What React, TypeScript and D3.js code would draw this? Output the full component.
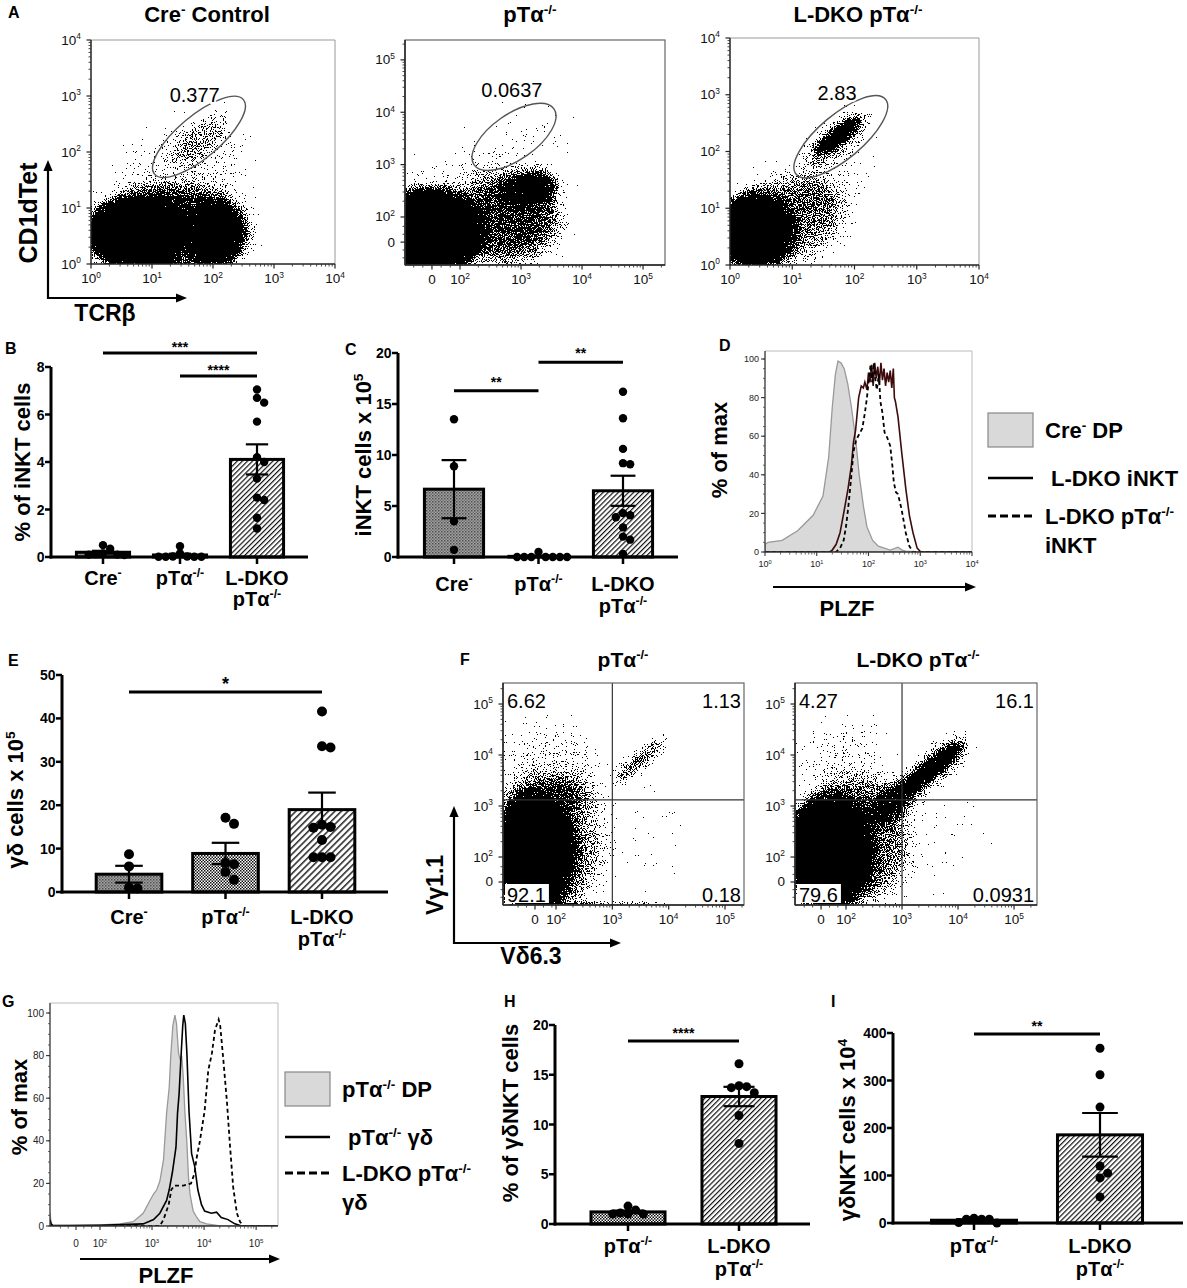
import React, { useEffect } from "react";
import * as d3 from "d3";

const FONT = "'Liberation Sans', Arial, Helvetica, sans-serif";

// ================= DATA =================
// Panel B: % of iNKT cells
const B_CRE = [0.5, 0.35, 0.15, 0.12, 0.1, 0.1, 0.08];
const B_PTA = [0.45, 0.15, 0.02, 0.01, 0.01, 0.01, 0.01, 0.02];
const B_LDKO = [7.05, 6.7, 6.5, 5.7, 4.2, 4.0, 3.3, 2.5, 2.4, 1.65, 1.2];
const B_TICKS = [0, 2, 4, 6, 8];
const B_SIG = [{ a: 0, b: 2, y: 8.59, t: "***" }, { a: 1, b: 2, y: 7.62, t: "****" }];

// Panel C: iNKT cells x 10^5
const C_CRE = [13.5, 8.9, 3.5, 0.7];
const C_PTA = [0, 0, 0, 0, 0, 0, 0, 0.5];
const C_LDKO = [16.2, 13.6, 10.6, 9.2, 9.1, 4.3, 4.1, 3.9, 2.9, 2.0, 1.7, 0.3];
const C_TICKS = [0, 5, 10, 15, 20];
const C_SIG = [{ a: 0, b: 1, y: 16.3, t: "**" }, { a: 1, b: 2, y: 19.1, t: "**" }];

// Panel E: γδ cells x 10^5
const E_CRE = [8.7, 5.9, 1.0, 0.8];
const E_PTA = [17.1, 15.7, 6.7, 6.4, 4.6, 2.8];
const E_LDKO = [41.6, 33.6, 33.3, 15.5, 15.0, 14.8, 12.0, 8, 8, 8];
const E_TICKS = [0, 10, 20, 30, 40, 50];
const E_SIG = [{ a: 0, b: 2, y: 46.1, t: "*" }];

// Panel H: % of γδNKT cells
const H_PTA = [1.8, 1.4, 1.1, 1.0, 1.0, 1.0];
const H_LDKO = [16.1, 13.9, 13.8, 13.7, 13.2, 10.9, 8.1];
const H_TICKS = [0, 5, 10, 15, 20];
const H_SIG = [{ a: 0, b: 1, y: 18.4, t: "****" }];

// Panel I: γδNKT cells x 10^4
const I_PTA = [10, 8, 8, 8, 1, 0];
const I_LDKO = [368, 312, 244, 120, 105, 95, 55];
const I_TICKS = [0, 100, 200, 300, 400];
const I_SIG = [{ a: 0, b: 1, y: 398, t: "**" }];

const CAT3 = [["Cre^{-}"], ["pTα^{-/-}"], ["L-DKO", "pTα^{-/-}"]];
const CAT2 = [["pTα^{-/-}"], ["L-DKO", "pTα^{-/-}"]];

// Panel D histograms (x = log10 PLZF, y = % of max)
const D_GRAY_X = [0, 0.06, 0.33, 0.63, 0.93, 1.12, 1.23, 1.3, 1.36, 1.41, 1.47, 1.53, 1.6, 1.67, 1.75, 1.82, 1.9, 1.97, 2.08, 2.19, 2.42, 2.57, 2.65, 2.72, 3.01, 4.0];
const D_GRAY_Y = [4, 5, 6, 11, 19, 29, 49, 75, 92, 99, 98, 95, 87, 75, 59, 40, 24, 13, 6, 3, 1, 2.5, 1, 0.5, 0, 0];
const D_SOLID_X = [0, 1.25, 1.3, 1.375, 1.45, 1.52, 1.6, 1.67, 1.71, 1.75, 1.81, 1.86, 1.9, 1.93, 1.97, 2.0, 2.03, 2.06, 2.09, 2.12, 2.15, 2.18, 2.21, 2.24, 2.27, 2.3, 2.33, 2.36, 2.39, 2.42, 2.45, 2.48, 2.5, 2.52, 2.57, 2.64, 2.72, 2.79, 2.86, 2.94, 3.01, 4.0];
const D_SOLID_Y = [0, 0, 1, 4, 10, 20, 32, 45, 57, 63, 80, 86, 85, 88, 84, 93, 88, 97, 86, 98, 90, 96, 87, 98, 89, 95, 86, 93, 88, 94, 85, 95, 80, 78, 70, 52, 33, 19, 10, 2, 0, 0];
const D_DASH_X = [0, 1.375, 1.45, 1.52, 1.57, 1.62, 1.67, 1.71, 1.76, 1.82, 1.88, 1.93, 1.97, 2.01, 2.04, 2.07, 2.1, 2.13, 2.16, 2.2, 2.23, 2.27, 2.31, 2.35, 2.38, 2.42, 2.46, 2.49, 2.53, 2.57, 2.64, 2.72, 2.79, 2.86, 4.0];
const D_DASH_Y = [0, 0, 2, 6, 14, 26, 40, 52, 58, 61, 64, 72, 80, 90, 97, 88, 98, 90, 84, 92, 78, 72, 62, 60, 58, 55, 45, 36, 31, 30, 22, 10, 3, 0, 0];

// Panel G histograms (x = biexponential display units, y = % of max)
const G_GRAY_X = [1.04, 1.06, 1.08, 1.12, 2.0, 2.385, 2.64, 2.83, 2.96, 3.03, 3.09, 3.15, 3.22, 3.28, 3.33, 3.36, 3.4, 3.44, 3.47, 3.51, 3.54, 3.57, 3.6, 3.63, 3.67, 3.7, 3.73, 3.79, 3.86, 3.92, 4.05, 4.31, 5.42];
const G_GRAY_Y = [6, 2, 0.5, 0.5, 0.5, 1, 2, 6, 12, 15, 17, 21, 31, 53, 65, 80, 94, 99, 95, 81, 78, 80, 70, 54, 39, 23, 15, 7, 4, 2, 1, 0, 0];
const G_SOLID_X = [1.04, 1.06, 1.1, 2.0, 2.83, 3.03, 3.15, 3.28, 3.33, 3.39, 3.46, 3.49, 3.52, 3.56, 3.59, 3.61, 3.64, 3.67, 3.71, 3.76, 3.82, 3.88, 3.95, 4.01, 4.14, 4.24, 4.33, 4.46, 4.59, 4.72, 5.42];
const G_SOLID_Y = [3, 1, 0, 0.3, 1, 3, 6, 12, 17, 25, 37, 53, 62, 81, 94, 99, 95, 81, 54, 34, 28, 17, 10, 7, 6, 6.5, 4, 3, 1, 0, 0];
const G_DASH_X = [1.04, 3.15, 3.22, 3.32, 3.37, 3.43, 3.6, 3.75, 3.82, 3.85, 3.92, 4.01, 4.08, 4.15, 4.21, 4.28, 4.31, 4.37, 4.44, 4.5, 4.56, 4.63, 4.69, 4.76, 5.42];
const G_DASH_Y = [0, 0, 3, 10, 17, 19, 19, 20, 25, 31, 40, 54, 73, 81, 92, 97, 94, 78, 58, 37, 18, 6, 2, 0, 0];

// Flow cytometry populations (centre / spread in decades, density 0-1)
const A1_POPS = [
  { x: 0.75, y: 0.55, a: 0.9, b: 0.62, ang: 0, d: 1, bl: 6 },
  { x: 2.05, y: 0.55, a: 0.45, b: 0.55, ang: 0, d: 1, bl: 6 },
  { x: 1.35, y: 0.6, a: 1.35, b: 0.75, ang: 0, d: 0.72, bl: 10 },
  { x: 1.5, y: 1.6, a: 1.2, b: 0.75, ang: -15, d: 0.2, bl: 14 },
  { x: 1.8, y: 2.25, a: 0.65, b: 0.26, ang: -40, d: 0.36, bl: 8 },
];
const A2_POPS = [
  { x: 1.5, y: 1.72, a: 0.95, b: 0.78, ang: 0, d: 1, bl: 6 },
  { x: 3.15, y: 2.55, a: 0.5, b: 0.3, ang: -10, d: 0.85, bl: 6 },
  { x: 2.75, y: 1.95, a: 0.95, b: 0.75, ang: 0, d: 0.55, bl: 10 },
  { x: 2.3, y: 2.0, a: 1.6, b: 0.95, ang: 0, d: 0.22, bl: 14 },
  { x: 2.9, y: 3.3, a: 1.0, b: 0.55, ang: -30, d: 0.12, bl: 14 },
];
const A3_POPS = [
  { x: 0.4, y: 0.6, a: 0.68, b: 0.64, ang: 0, d: 1, bl: 6 },
  { x: 0.9, y: 0.8, a: 1.0, b: 0.75, ang: -20, d: 0.48, bl: 10 },
  { x: 1.6, y: 1.4, a: 0.9, b: 0.5, ang: -35, d: 0.17, bl: 12 },
  { x: 1.72, y: 2.22, a: 0.72, b: 0.3, ang: -38, d: 0.35, bl: 6 },
  { x: 1.73, y: 2.27, a: 0.48, b: 0.13, ang: -38, d: 1, bl: 3 },
];
const F1_POPS = [
  { x: 1.6, y: 2.1, a: 0.8, b: 1.1, ang: 0, d: 1, bl: 6 },
  { x: 1.9, y: 2.2, a: 1.0, b: 1.3, ang: 0, d: 0.45, bl: 10 },
  { x: 1.9, y: 3.75, a: 0.95, b: 0.75, ang: 0, d: 0.24, bl: 14 },
  { x: 1.9, y: 3.25, a: 0.9, b: 0.3, ang: 0, d: 0.3, bl: 8 },
  { x: 3.5, y: 3.9, a: 0.65, b: 0.15, ang: -40, d: 0.55, bl: 5 },
  { x: 3.4, y: 2.4, a: 0.9, b: 0.9, ang: 0, d: 0.07, bl: 14 },
  { x: 2.9, y: 1.09, a: 1.1, b: 0.04, ang: 0, d: 0.4, bl: 1 },
];
const F2_POPS = [
  { x: 1.7, y: 2.1, a: 0.85, b: 1.1, ang: 0, d: 1, bl: 6 },
  { x: 2.2, y: 2.3, a: 1.0, b: 1.2, ang: 0, d: 0.5, bl: 10 },
  { x: 3.55, y: 3.75, a: 0.75, b: 0.17, ang: -40, d: 1, bl: 4 },
  { x: 2.8, y: 3.05, a: 0.6, b: 0.25, ang: -40, d: 0.8, bl: 6 },
  { x: 1.9, y: 3.8, a: 0.9, b: 0.75, ang: 0, d: 0.2, bl: 12 },
  { x: 3.5, y: 3.7, a: 0.95, b: 0.35, ang: -40, d: 0.3, bl: 8 },
  { x: 3.6, y: 2.3, a: 0.9, b: 0.8, ang: 0, d: 0.05, bl: 14 },
];
const A1_GATE = { x: 1.77, y: 2.27, a: 0.99, b: 0.36, ang: -40, label: "0.377", lx: 1.7, ly: 3.02 };
const A2_GATE = { x: 2.885, y: 3.53, a: 0.86, b: 0.4, ang: -35, label: "0.0637", lx: 2.85, ly: 4.43 };
const A3_GATE = { x: 1.78, y: 2.26, a: 0.98, b: 0.37, ang: -40, label: "2.83", lx: 1.72, ly: 3.03 };
const F_QUAD = { x: 3.0, y: 3.12 };
const F1_QLAB = ["6.62", "1.13", "92.1", "0.18"];
const F2_QLAB = ["4.27", "16.1", "79.6", "0.0931"];

// ================= HELPERS =================
function rich(s, fs) {
  const out = [];
  const re = /\^\{([^}]*)\}/g;
  let last = 0, m, raised = false, k = 0;
  const sh = fs * 0.38;
  while ((m = re.exec(s))) {
    if (m.index > last) {
      out.push(<tspan key={k++} dy={raised ? sh : 0}>{s.slice(last, m.index)}</tspan>);
      raised = false;
    }
    out.push(<tspan key={k++} dy={raised ? 0 : -sh} fontSize={fs * 0.62}>{m[1]}</tspan>);
    raised = true;
    last = re.lastIndex;
  }
  if (last < s.length) out.push(<tspan key={k++} dy={raised ? sh : 0}>{s.slice(last)}</tspan>);
  return out;
}

function swarm(vals, y, cx, r) {
  const placed = [];
  const sorted = [...vals].sort((a, b) => b - a);
  const step = r * 1.7;
  for (const v of sorted) {
    const py = y(v);
    for (let k = 0; k < 40; k++) {
      const off = k === 0 ? 0 : (k % 2 === 1 ? 1 : -1) * Math.ceil(k / 2) * step;
      const px = cx + off;
      if (placed.every((q) => Math.hypot(q.x - px, q.y - py) >= r * 1.65)) {
        placed.push({ x: px, y: py });
        break;
      }
    }
  }
  return placed;
}

function Arrow({ x1, y1, x2, y2, w = 2, head = 10 }) {
  const ang = Math.atan2(y2 - y1, x2 - x1);
  const hx = x2 - head * Math.cos(ang), hy = y2 - head * Math.sin(ang);
  const px = -Math.sin(ang) * head * 0.42, py = Math.cos(ang) * head * 0.42;
  return (
    <g>
      <line x1={x1} y1={y1} x2={hx} y2={hy} stroke="#000" strokeWidth={w} />
      <path d={`M${x2},${y2}L${hx + px},${hy + py}L${hx - px},${hy - py}Z`} fill="#000" />
    </g>
  );
}

function textW(s, fs) {
  let w = 0;
  for (const c of s) w += (c === "." ? 0.278 : 0.556) * fs;
  return w;
}

// ================= BAR PANEL =================
function BarPanel(p) {
  const y = d3.scaleLinear().domain([0, p.max]).range([p.yBot, p.yTop]);
  const idx = p.groups.map((_, i) => i);
  const xb = d3.scaleBand().domain(idx).range(p.band).paddingInner(p.pad).paddingOuter(p.pad / 2);
  const bw = xb.bandwidth();
  const cx = (i) => xb(i) + bw / 2;
  const cap = bw * 0.42;
  const st = p.groups.map((g) => {
    const m = d3.mean(g);
    const sd = d3.deviation(g) || 0;
    return { m, se: sd / Math.sqrt(g.length) };
  });
  const r = p.r;
  const sigFs = p.sigFs || 14;
  return (
    <g>
      <text x={p.lx} y={p.ly} fontSize={16} fontWeight="bold">{p.letter}</text>
      {idx.map((i) => (
        <rect key={"b" + i} x={xb(i)} y={y(st[i].m)} width={bw} height={p.yBot - y(st[i].m)}
          fill={`url(#${p.fills[i]})`} stroke="#000" strokeWidth={3} />
      ))}
      {idx.map((i) =>
        swarm(p.groups[i], y, cx(i), r).map((d, k) => <circle key={`d${i}-${k}`} cx={d.x} cy={d.y} r={r} fill="#000" />)
      )}
      {idx.map((i) => {
        const t = y(st[i].m + st[i].se), b = y(Math.max(0, st[i].m - st[i].se));
        return (
          <g key={"e" + i} stroke="#000" strokeWidth={2.2}>
            <line x1={cx(i)} x2={cx(i)} y1={t} y2={b} />
            <line x1={cx(i) - cap / 2} x2={cx(i) + cap / 2} y1={t} y2={t} />
            <line x1={cx(i) - cap / 2} x2={cx(i) + cap / 2} y1={b} y2={b} />
          </g>
        );
      })}
      <line x1={p.x0} x2={p.x0} y1={p.yBot + 1.5} y2={p.yTop} stroke="#000" strokeWidth={3} />
      <line x1={p.x0 - 1.5} x2={p.x1} y1={p.yBot} y2={p.yBot} stroke="#000" strokeWidth={3} />
      {p.ticks.map((t) => (
        <g key={"t" + t}>
          <line x1={p.x0} x2={p.x0 - 6} y1={y(t)} y2={y(t)} stroke="#000" strokeWidth={2.5} />
          <text x={p.x0 - 6.5} y={y(t)} dy="0.36em" textAnchor="end" fontSize={14} fontWeight="bold">{t}</text>
        </g>
      ))}
      {idx.map((i) => (
        <line key={"ct" + i} x1={cx(i)} x2={cx(i)} y1={p.yBot} y2={p.yBot + 7} stroke="#000" strokeWidth={2.5} />
      ))}
      {p.sig.map((s, k) => (
        <g key={"s" + k}>
          <line x1={cx(s.a)} x2={cx(s.b)} y1={y(s.y)} y2={y(s.y)} stroke="#000" strokeWidth={3} />
          <text x={(cx(s.a) + cx(s.b)) / 2} y={y(s.y) - (p.sigDy || 3)} textAnchor="middle" fontSize={sigFs} fontWeight="bold">{s.t}</text>
        </g>
      ))}
      {idx.map((i) =>
        p.labels[i].map((ln, j) => (
          <text key={`l${i}-${j}`} x={cx(i)} y={p.catY[j]} textAnchor="middle" fontSize={20} fontWeight="bold">{rich(ln, 20)}</text>
        ))
      )}
      <text transform={`translate(${p.ylx},${p.yly}) rotate(-90)`} textAnchor="middle" fontSize={22} fontWeight="bold">
        {rich(p.yLabel, 22)}
      </text>
    </g>
  );
}

// ================= FLOW PLOT =================
function FlowPlot(p) {
  const { id, left, right, top, bottom } = p;
  const x = d3.scaleLinear().domain(p.xDom).range([left, right]);
  const y = d3.scaleLinear().domain(p.yDom).range([bottom, top]);
  const u = ((right - left) / (p.xDom[1] - p.xDom[0]) + (bottom - top) / (p.yDom[1] - p.yDom[0])) / 2;
  const majors = (log, zero) =>
    log ? [0, 1, 2, 3, 4].map((v) => ({ v, t: `10^{${v}}` }))
      : [{ v: zero, t: "0" }, ...[2, 3, 4, 5].map((v) => ({ v, t: `10^{${v}}` }))];
  const minors = (dom, log, zero) => {
    const out = [];
    for (let dd = log ? 0 : 2; dd < 6; dd++)
      for (let m = 2; m <= 9; m++) {
        const v = dd + Math.log10(m);
        if (v > dom[0] && v < dom[1]) out.push(v);
      }
    if (!log) [zero - 0.3, zero - 0.15, zero + 0.15, zero + 0.3].forEach((v) => { if (v > dom[0]) out.push(v); });
    return out;
  };
  const xM = majors(p.xLog, p.xZero).filter((t) => t.v >= p.xDom[0] - 1e-6 && t.v <= p.xDom[1] + 1e-6);
  const yM = majors(p.yLog, p.yZero).filter((t) => t.v >= p.yDom[0] - 1e-6 && t.v <= p.yDom[1] + 1e-6);
  const xm = minors(p.xDom, p.xLog, p.xZero);
  const ym = minors(p.yDom, p.yLog, p.yZero);
  const fs = 13.5;
  const qfs = 20;
  return (
    <g>
      <defs>
        <clipPath id={`cl-${id}`}><rect x={left} y={top} width={right - left} height={bottom - top} /></clipPath>
        <filter id={`sp-${id}`} filterUnits="userSpaceOnUse" x={left} y={top} width={right - left} height={bottom - top}
          colorInterpolationFilters="sRGB">
          <feTurbulence type="fractalNoise" baseFrequency="0.9" numOctaves="2" seed={p.seed} result="noise" />
          <feColorMatrix in="noise" type="matrix" values="0 0 0 0 0  0 0 0 0 0  0 0 0 0 0  1.6 0 0 0 -0.3" result="n" />
          <feComposite in="SourceGraphic" in2="n" operator="arithmetic" k1="0" k2="1.05" k3="-1" k4="0.49" result="df" />
          <feComponentTransfer in="df">
            <feFuncR type="linear" slope="0" intercept="0" />
            <feFuncG type="linear" slope="0" intercept="0" />
            <feFuncB type="linear" slope="0" intercept="0" />
            <feFuncA type="discrete" tableValues="0 1" />
          </feComponentTransfer>
        </filter>
      </defs>
      <rect x={left} y={top} width={right - left} height={bottom - top} fill="#fff" />
      <g clipPath={`url(#cl-${id})`}>
        <g filter={`url(#sp-${id})`}>
          {p.pops.map((q, k) => {
            const cx = x(q.x), cy = y(q.y);
            return (
              <ellipse key={k} cx={cx} cy={cy} rx={q.a * u} ry={q.b * u} transform={`rotate(${q.ang} ${cx} ${cy})`}
                fill="#000" fillOpacity={q.d} filter={`url(#bl${q.bl})`} />
            );
          })}
        </g>
      </g>
      {p.quad && (
        <g stroke="#333" strokeWidth={1.2}>
          <line x1={x(p.quad.x)} x2={x(p.quad.x)} y1={top} y2={bottom} />
          <line x1={left} x2={right} y1={y(p.quad.y)} y2={y(p.quad.y)} />
        </g>
      )}
      {p.gate && (() => {
        const g = p.gate;
        const cx = x(g.x), cy = y(g.y);
        return (
          <g>
            <ellipse cx={cx} cy={cy} rx={g.a * u} ry={g.b * u} transform={`rotate(${g.ang} ${cx} ${cy})`}
              fill="none" stroke="#555" strokeWidth={1.4} />
            <text x={x(g.lx)} y={y(g.ly)} dy="0.36em" textAnchor="middle" fontSize={20} fill="#000"
              stroke="#fff" strokeWidth={4} paintOrder="stroke">{g.label}</text>
          </g>
        );
      })()}
      {p.qlab && (
        <g fontSize={qfs}>
          {[
            { t: p.qlab[0], x: left + 4, y: top + 25, anc: "start" },
            { t: p.qlab[1], x: right - 3, y: top + 25, anc: "end" },
            { t: p.qlab[2], x: left + 4, y: bottom - 3, anc: "start" },
            { t: p.qlab[3], x: right - 3, y: bottom - 3, anc: "end" },
          ].map((q, k) => {
            const w = textW(q.t, qfs) + 5;
            const bx = q.anc === "start" ? q.x - 2 : q.x - w + 2;
            return (
              <g key={k}>
                <rect x={bx} y={q.y - 18} width={w} height={19} fill="#fff" />
                <text x={q.x} y={q.y} textAnchor={q.anc}>{q.t}</text>
              </g>
            );
          })}
        </g>
      )}
      {p.open ? (
        <g>
          <line x1={left} x2={right} y1={top} y2={top} stroke="#999" strokeWidth={1} />
          <line x1={right} x2={right} y1={top} y2={bottom} stroke="#999" strokeWidth={1} />
        </g>
      ) : (
        <rect x={left} y={top} width={right - left} height={bottom - top} fill="none" stroke="#666" strokeWidth={1.2} />
      )}
      <line x1={left} x2={left} y1={top} y2={bottom} stroke="#222" strokeWidth={1.5} />
      <line x1={left} x2={right} y1={bottom} y2={bottom} stroke="#222" strokeWidth={1.5} />
      {xm.map((v, k) => <line key={"xm" + k} x1={x(v)} x2={x(v)} y1={bottom} y2={bottom + 2.5} stroke="#333" strokeWidth={0.9} />)}
      {ym.map((v, k) => <line key={"ym" + k} x1={left} x2={left - 2.5} y1={y(v)} y2={y(v)} stroke="#333" strokeWidth={0.9} />)}
      {xM.map((t, k) => (
        <g key={"xM" + k}>
          <line x1={x(t.v)} x2={x(t.v)} y1={bottom} y2={bottom + 4.5} stroke="#222" strokeWidth={1.2} />
          <text x={x(t.v)} y={bottom + 19} textAnchor="middle" fontSize={fs} fill="#111">{rich(t.t, fs)}</text>
        </g>
      ))}
      {yM.map((t, k) => (
        <g key={"yM" + k}>
          <line x1={left} x2={left - 4.5} y1={y(t.v)} y2={y(t.v)} stroke="#222" strokeWidth={1.2} />
          <text x={left - 10} y={y(t.v) + 4.5} textAnchor="end" fontSize={fs} fill="#111">{rich(t.t, fs)}</text>
        </g>
      ))}
    </g>
  );
}

// ================= HISTOGRAM PANEL =================
function Hist(p) {
  const x = d3.scaleLinear().domain(p.xDom).range([p.left, p.right]);
  const y = d3.scaleLinear().domain([0, 100]).range([p.bottom, p.y100]);
  const zip = (xs, ys) => xs.map((v, i) => [v, ys[i]]);
  const area = d3.area().x((d) => x(d[0])).y0(p.bottom).y1((d) => y(d[1]));
  const line = d3.line().x((d) => x(d[0])).y((d) => y(d[1]));
  const majors = p.xLog ? [0, 1, 2, 3, 4].map((v) => ({ v, t: `10^{${v}}` }))
    : [{ v: p.xZero, t: "0" }, ...[2, 3, 4, 5].map((v) => ({ v, t: `10^{${v}}` }))];
  const minors = [];
  for (let dd = p.xLog ? 0 : 2; dd < 6; dd++)
    for (let m = 2; m <= 9; m++) {
      const v = dd + Math.log10(m);
      if (v > p.xDom[0] && v < p.xDom[1]) minors.push(v);
    }
  if (!p.xLog) [p.xZero - 0.3, p.xZero - 0.15, p.xZero + 0.15, p.xZero + 0.3].forEach((v) => minors.push(v));
  const yt = [0, 20, 40, 60, 80, 100];
  const ymin = d3.range(0, 101, 5);
  const id = p.id;
  return (
    <g>
      <defs>
        <clipPath id={`hc-${id}`}><rect x={p.left} y={p.top} width={p.right - p.left} height={p.bottom - p.top} /></clipPath>
      </defs>
      <g clipPath={`url(#hc-${id})`}>
        <path d={area(zip(p.gx, p.gy))} fill="#d9d9d9" stroke="#999" strokeWidth={1.3} />
        <path d={line(zip(p.sx, p.sy))} fill="none" stroke={p.solidColor} strokeWidth={1.6} />
        <path d={line(zip(p.dx, p.dy))} fill="none" stroke="#000" strokeWidth={1.8} strokeDasharray="4 3" />
      </g>
      <line x1={p.left} x2={p.right} y1={p.top} y2={p.top} stroke="#bbb" strokeWidth={1} />
      <line x1={p.right} x2={p.right} y1={p.top} y2={p.bottom} stroke="#bbb" strokeWidth={1} />
      <line x1={p.left} x2={p.left} y1={p.top} y2={p.bottom} stroke="#333" strokeWidth={1.3} />
      <line x1={p.left} x2={p.right} y1={p.bottom} y2={p.bottom} stroke="#333" strokeWidth={1.3} />
      {ymin.map((v) => <line key={"ym" + v} x1={p.left} x2={p.left - 2} y1={y(v)} y2={y(v)} stroke="#444" strokeWidth={0.8} />)}
      {yt.map((v) => (
        <g key={"yt" + v}>
          <line x1={p.left} x2={p.left - 4} y1={y(v)} y2={y(v)} stroke="#333" strokeWidth={1.1} />
          <text x={p.left - 6} y={y(v)} dy="0.35em" textAnchor="end" fontSize={p.tfs} fill="#222">{v}</text>
        </g>
      ))}
      {minors.map((v, k) => <line key={"xm" + k} x1={x(v)} x2={x(v)} y1={p.bottom} y2={p.bottom + 2.5} stroke="#444" strokeWidth={0.8} />)}
      {majors.map((t, k) => (
        <g key={"xt" + k}>
          <line x1={x(t.v)} x2={x(t.v)} y1={p.bottom} y2={p.bottom + 4} stroke="#333" strokeWidth={1.1} />
          <text x={x(t.v)} y={p.xLabY} textAnchor="middle" fontSize={p.tfs} fill="#222">{rich(t.t, p.tfs)}</text>
        </g>
      ))}
      <text transform={`translate(${p.ylx},${p.yly}) rotate(-90)`} textAnchor="middle" fontSize={22} fontWeight="bold">% of max</text>
      <Arrow x1={p.arrow[0]} y1={p.arrow[2]} x2={p.arrow[1]} y2={p.arrow[2]} w={2.2} head={11} />
      <text x={p.plzf[0]} y={p.plzf[1]} textAnchor="middle" fontSize={22} fontWeight="bold">PLZF</text>
      {/* legend */}
      <rect x={p.leg[0]} y={p.leg[1]} width={45} height={34} fill="#d9d9d9" stroke="#888" strokeWidth={1.2} />
      <text x={p.leg[0] + 57} y={p.leg[1] + 25} fontSize={22} fontWeight="bold">{rich(p.legT[0], 22)}</text>
      <line x1={p.leg[0]} x2={p.leg[0] + 45} y1={p.leg[2]} y2={p.leg[2]} stroke="#000" strokeWidth={2.5} />
      <text x={p.leg[0] + 63} y={p.leg[2] + 8} fontSize={22} fontWeight="bold">{rich(p.legT[1], 22)}</text>
      <line x1={p.leg[0]} x2={p.leg[0] + 45} y1={p.leg[3]} y2={p.leg[3]} stroke="#000" strokeWidth={3} strokeDasharray="8 4" />
      <text x={p.leg[0] + 57} y={p.leg[3] + 8} fontSize={22} fontWeight="bold">{rich(p.legT[2], 22)}</text>
      <text x={p.leg[0] + 57} y={p.leg[3] + 37} fontSize={22} fontWeight="bold">{p.legT[3]}</text>
    </g>
  );
}

function Defs() {
  const blurs = [1, 3, 4, 5, 6, 8, 10, 12, 14];
  return (
    <defs>
      {blurs.map((b) => (
        <filter key={b} id={`bl${b}`} x="-100%" y="-100%" width="300%" height="300%">
          <feGaussianBlur stdDeviation={b} />
        </filter>
      ))}
      <pattern id="pCre" width="3" height="3" patternUnits="userSpaceOnUse">
        <rect width="3" height="3" fill="#a2a2a2" />
        <rect width="1.5" height="1.5" fill="#4e4e4e" />
        <rect x="1.5" y="1.5" width="1.5" height="1.5" fill="#727272" />
      </pattern>
      <pattern id="pPta" width="3" height="3" patternUnits="userSpaceOnUse">
        <rect width="3" height="3" fill="#fff" />
        <rect width="1.5" height="1.5" fill="#111" />
        <rect x="1.5" y="1.5" width="1.5" height="1.5" fill="#111" />
      </pattern>
      <pattern id="pLdko" width="3.6" height="3.6" patternUnits="userSpaceOnUse" patternTransform="rotate(45)">
        <rect width="3.6" height="3.6" fill="#fff" />
        <line x1="0.6" y1="0" x2="0.6" y2="3.6" stroke="#111" strokeWidth="1.2" />
      </pattern>
      <pattern id="pLdkoE" width="4.6" height="4.6" patternUnits="userSpaceOnUse" patternTransform="rotate(45)">
        <rect width="4.6" height="4.6" fill="#fff" />
        <line x1="0.8" y1="0" x2="0.8" y2="4.6" stroke="#111" strokeWidth="1.4" />
      </pattern>
    </defs>
  );
}

export default function App() {
  useEffect(() => {
    document.body.style.margin = "0";
  }, []);
  const bold = { fontWeight: "bold" };
  return (
    <svg width={1187} height={1288} viewBox="0 0 1187 1288" fontFamily={FONT}
      style={{ display: "block", position: "absolute", left: 0, top: 0, background: "#fff" }}>
      <Defs />
      <rect width={1187} height={1288} fill="#fff" />

      {/* ---------- Panel A ---------- */}
      <text x={8} y={18} fontSize={16} {...bold}>A</text>
      <text x={207} y={22} textAnchor="middle" fontSize={22} {...bold}>{rich("Cre^{-} Control", 22)}</text>
      <text x={530} y={22} textAnchor="middle" fontSize={22} {...bold}>{rich("pTα^{-/-}", 22)}</text>
      <text x={858} y={22} textAnchor="middle" fontSize={22} {...bold}>{rich("L-DKO pTα^{-/-}", 22)}</text>
      <FlowPlot id="a1" left={91} right={335} top={40} bottom={264} xDom={[0, 4]} yDom={[0, 4]} xLog yLog
        pops={A1_POPS} gate={A1_GATE} seed={3} open />
      <FlowPlot id="a2" left={405} right={665} top={40} bottom={265} xDom={[1.098, 5.36]} yDom={[1.083, 5.38]}
        xZero={1.54} yZero={1.52} pops={A2_POPS} gate={A2_GATE} seed={7} />
      <FlowPlot id="a3" left={730} right={979} top={38} bottom={265} xDom={[0, 4]} yDom={[0, 4]} xLog yLog
        pops={A3_POPS} gate={A3_GATE} seed={11} open />
      <text transform="translate(37,213) rotate(-90)" textAnchor="middle" fontSize={25} {...bold}>CD1dTet</text>
      <Arrow x1={48} y1={299} x2={48} y2={160} w={2.2} head={11} />
      <Arrow x1={47} y1={298} x2={187} y2={298} w={2.2} head={11} />
      <text x={105} y={321} textAnchor="middle" fontSize={23} {...bold}>TCRβ</text>

      {/* ---------- Panel B ---------- */}
      <BarPanel letter="B" lx={5} ly={354} x0={51} x1={308} yTop={367} yBot={557} band={[64.5, 295.5]} pad={0.31}
        max={8} ticks={B_TICKS} groups={[B_CRE, B_PTA, B_LDKO]} fills={["pCre", "pPta", "pLdko"]}
        labels={CAT3} catY={[585, 606]} sig={B_SIG} sigDy={1} yLabel="% of iNKT cells" ylx={30} yly={462} r={4.2} />

      {/* ---------- Panel C ---------- */}
      <BarPanel letter="C" lx={345} ly={355} x0={398} x1={678} yTop={353} yBot={557} band={[411.75, 665.25]} pad={0.3}
        max={20} ticks={C_TICKS} groups={[C_CRE, C_PTA, C_LDKO]} fills={["pCre", "pPta", "pLdko"]}
        labels={CAT3} catY={[591, 613]} sig={C_SIG} sigDy={4} yLabel="iNKT cells x 10^{5}" ylx={371} yly={455} r={4.2} />

      {/* ---------- Panel D ---------- */}
      <text x={719} y={351} fontSize={16} {...bold}>D</text>
      <Hist id="d" left={765} right={972} top={351} bottom={552} y100={359} xDom={[0, 4]} xLog
        gx={D_GRAY_X} gy={D_GRAY_Y} sx={D_SOLID_X} sy={D_SOLID_Y} dx={D_DASH_X} dy={D_DASH_Y}
        solidColor="#3d0b0b" tfs={9} xLabY={567} ylx={727} yly={450} arrow={[773, 976, 587]} plzf={[847, 616]}
        leg={[988, 413, 478, 516]} legT={["Cre^{-} DP", "L-DKO iNKT", "L-DKO pTα^{-/-}", "iNKT"]} />

      {/* ---------- Panel E ---------- */}
      <BarPanel letter="E" lx={8} ly={666} x0={62} x1={388} yTop={675} yBot={892} band={[80.75, 370.25]} pad={0.32}
        max={50} ticks={E_TICKS} groups={[E_CRE, E_PTA, E_LDKO]} fills={["pCre", "pPta", "pLdkoE"]}
        labels={CAT3} catY={[924, 946]} sig={E_SIG} sigFs={18} sigDy={2} yLabel="γδ cells x 10^{5}" ylx={23} yly={800} r={5} />

      {/* ---------- Panel F ---------- */}
      <text x={460} y={665} fontSize={16} {...bold}>F</text>
      <text x={623} y={667} textAnchor="middle" fontSize={21} {...bold}>{rich("pTα^{-/-}", 21)}</text>
      <text x={918} y={667} textAnchor="middle" fontSize={21} {...bold}>{rich("L-DKO pTα^{-/-}", 21)}</text>
      <FlowPlot id="f1" left={503} right={744} top={683} bottom={905} xDom={[1.059, 5.337]} yDom={[1.059, 5.412]}
        xZero={1.627} yZero={1.51} pops={F1_POPS} quad={F_QUAD} qlab={F1_QLAB} seed={17} />
      <FlowPlot id="f2" left={795} right={1037} top={683} bottom={905} xDom={[1.089, 5.41]} yDom={[1.059, 5.412]}
        xZero={1.554} yZero={1.51} pops={F2_POPS} quad={F_QUAD} qlab={F2_QLAB} seed={23} />
      <text transform="translate(443,885) rotate(-90)" textAnchor="middle" fontSize={23} {...bold}>Vγ1.1</text>
      <Arrow x1={454} y1={944} x2={454} y2={806} w={2.2} head={11} />
      <Arrow x1={453} y1={943} x2={621} y2={943} w={2.2} head={11} />
      <text x={531} y={964} textAnchor="middle" fontSize={23} {...bold}>Vδ6.3</text>

      {/* ---------- Panel G ---------- */}
      <text x={2} y={1007} fontSize={16} {...bold}>G</text>
      <Hist id="g" left={50} right={278} top={1003} bottom={1226} y100={1013} xDom={[1.04, 5.42]} xZero={1.54}
        gx={G_GRAY_X} gy={G_GRAY_Y} sx={G_SOLID_X} sy={G_SOLID_Y} dx={G_DASH_X} dy={G_DASH_Y}
        solidColor="#000" tfs={10} xLabY={1247} ylx={27} yly={1107} arrow={[80, 280, 1259]} plzf={[166, 1283]}
        leg={[285, 1072, 1137, 1173]} legT={["pTα^{-/-} DP", "pTα^{-/-} γδ", "L-DKO pTα^{-/-}", "γδ"]} />

      {/* ---------- Panel H ---------- */}
      <BarPanel letter="H" lx={504} ly={1007} x0={555} x1={810} yTop={1025} yBot={1224} band={[572.5, 794.5]} pad={0.333}
        max={20} ticks={H_TICKS} groups={[H_PTA, H_LDKO]} fills={["pPta", "pLdko"]}
        labels={CAT2} catY={[1253, 1276]} sig={H_SIG} sigDy={3} yLabel="% of γδNKT cells" ylx={518} yly={1113} r={4.5} />

      {/* ---------- Panel I ---------- */}
      <BarPanel letter="I" lx={831} ly={1007} x0={893} x1={1183} yTop={1033} yBot={1223} band={[911, 1163]} pad={0.325}
        max={400} ticks={I_TICKS} groups={[I_PTA, I_LDKO]} fills={["pPta", "pLdko"]}
        labels={CAT2} catY={[1253, 1276]} sig={I_SIG} sigDy={3} yLabel="γδNKT cells x 10^{4}" ylx={855} yly={1130} r={4.5} />
    </svg>
  );
}
